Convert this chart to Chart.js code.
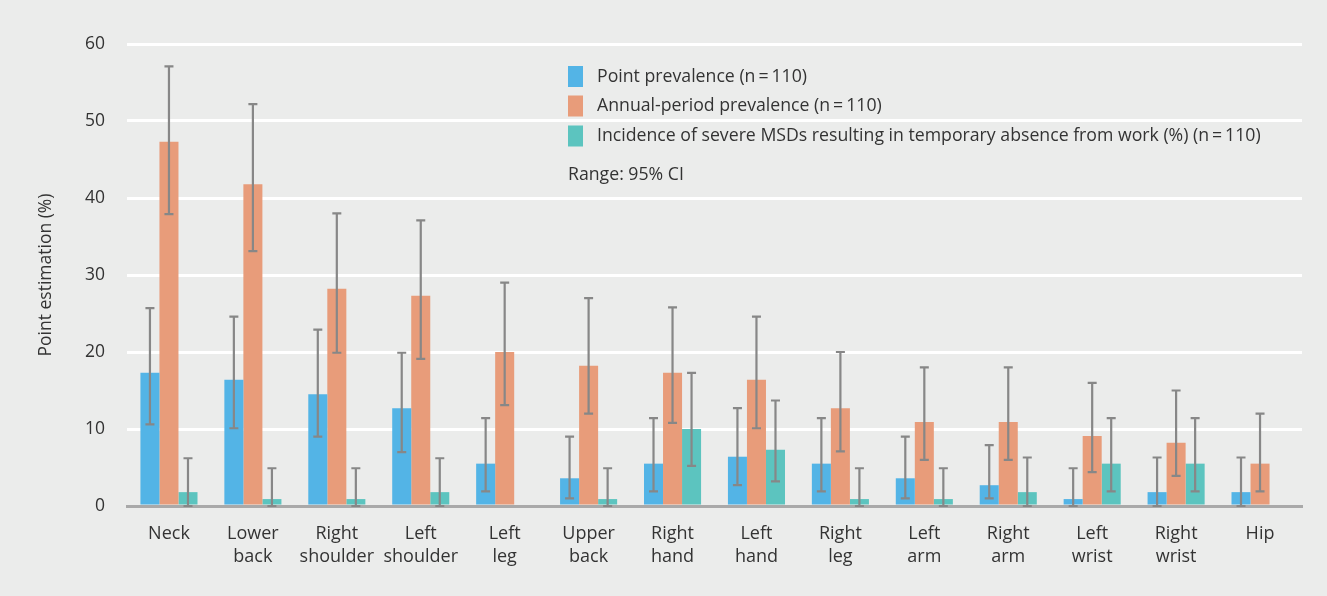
<!DOCTYPE html>
<html>
<head>
<meta charset="utf-8">
<script src="https://cdn.jsdelivr.net/npm/chart.js@4.4.0/dist/chart.umd.min.js"></script>
<style>
  html, body { margin: 0; padding: 0; background: #ebeceb; }
  #wrap { width: 1327px; height: 596px; position: relative; }
</style>
</head>
<body>
<div id="wrap"><canvas id="chart"></canvas></div>
<script>
// body regions
const categories = [
  ["Neck"], ["Lower", "back"], ["Right", "shoulder"], ["Left", "shoulder"], ["Left", "leg"],
  ["Upper", "back"], ["Right", "hand"], ["Left", "hand"], ["Right", "leg"], ["Left", "arm"],
  ["Right", "arm"], ["Left", "wrist"], ["Right", "wrist"], ["Hip"]
]

// point prevalence and 95% CI
const pointPrev = [17.3, 16.4, 14.5, 12.7, 5.5, 3.6, 5.5, 6.4, 5.5, 3.6, 2.7, 0.9, 1.8, 1.8]
const pointLo = [10.6, 10.1, 9.0, 7.0, 1.9, 1.0, 1.9, 2.7, 1.9, 1.0, 1.0, 0, 0, 0]
const pointHi = [25.7, 24.6, 22.9, 19.9, 11.4, 9.0, 11.4, 12.7, 11.4, 9.0, 7.9, 4.9, 6.3, 6.3]

// annual-period prevalence and 95% CI
const annualPrev = [47.3, 41.8, 28.2, 27.3, 20.0, 18.2, 17.3, 16.4, 12.7, 10.9, 10.9, 9.1, 8.2, 5.5]
const annualLo = [37.9, 33.1, 19.9, 19.1, 13.1, 12.0, 10.8, 10.1, 7.1, 6.0, 6.0, 4.4, 3.9, 1.9]
const annualHi = [57.1, 52.2, 38.0, 37.1, 29.0, 27.0, 25.8, 24.6, 20.0, 18.0, 18.0, 16.0, 15.0, 12.0]

// severe MSDs incidence and 95% CI
const severeInc = [1.8, 0.9, 0.9, 1.8, 0, 0.9, 10.0, 7.3, 0.9, 0.9, 1.8, 5.5, 5.5, 0]
const severeLo = [0, 0, 0, 0, null, 0, 5.2, 3.2, 0, 0, 0, 1.9, 1.9, null]
const severeHi = [6.2, 4.9, 4.9, 6.2, null, 4.9, 17.3, 13.7, 4.9, 4.9, 6.3, 11.4, 11.4, null]

const yTicks = [0, 10, 20, 30, 40, 50, 60]

const seriesNames = [
  "Point prevalence (n\u2009=\u2009110)",
  "Annual-period prevalence (n\u2009=\u2009110)",
  "Incidence of severe MSDs resulting in temporary absence from work (%) (n\u2009=\u2009110)"
]
const colors = ["#53b4e6", "#e89c7a", "#5cc4bf"]
const FONT = "'Open Sans', sans-serif"

const errorBars = {
  id: "errorBars",
  afterDatasetsDraw(chart) {
    const ctx = chart.ctx
    const y = chart.scales.y
    ctx.save()
    ctx.strokeStyle = "#878787"
    ctx.lineWidth = 2.2
    chart.data.datasets.forEach((ds, i) => {
      const meta = chart.getDatasetMeta(i)
      meta.data.forEach((bar, j) => {
        const lo = ds.lo[j], hi = ds.hi[j]
        if (lo == null || hi == null) return
        const yl = y.getPixelForValue(lo), yh = y.getPixelForValue(hi)
        ctx.beginPath()
        ctx.moveTo(bar.x, yl); ctx.lineTo(bar.x, yh)
        ctx.moveTo(bar.x - 4.5, yl); ctx.lineTo(bar.x + 4.5, yl)
        ctx.moveTo(bar.x - 4.5, yh); ctx.lineTo(bar.x + 4.5, yh)
        ctx.stroke()
      })
    })
    ctx.restore()
  }
}

const legendBox = {
  id: "legendBox",
  afterDraw(chart) {
    const ctx = chart.ctx
    ctx.save()
    ctx.font = "17.7px " + FONT
    ctx.textBaseline = "middle"
    const rows = [76.5, 106, 136]
    seriesNames.forEach((name, i) => {
      ctx.fillStyle = colors[i]
      ctx.fillRect(568, rows[i] - 10.5, 15, 21)
      ctx.fillStyle = "#333"
      ctx.fillText(name, 597, rows[i])
    })
    ctx.fillText("Range: 95% CI", 568, 175)
    ctx.restore()
  }
}

new Chart(document.getElementById("chart"), {
  type: "bar",
  data: {
    labels: categories,
    datasets: [
      { label: seriesNames[0], data: pointPrev, lo: pointLo, hi: pointHi, backgroundColor: colors[0] },
      { label: seriesNames[1], data: annualPrev, lo: annualLo, hi: annualHi, backgroundColor: colors[1] },
      { label: seriesNames[2], data: severeInc, lo: severeLo, hi: severeHi, backgroundColor: colors[2] },
    ],
  },
  options: {
    responsive: true,
    maintainAspectRatio: false,
    animation: false,
    datasets: { bar: { categoryPercentage: 0.68, barPercentage: 1.0 } },
    layout: { padding: { left: 8, right: 25, top: 44, bottom: 0 } },
    scales: {
      x: {
        grid: { display: false },
        border: { display: true, color: "#a9a9a9", width: 3 },
        ticks: { color: "#333", font: { family: FONT, size: 18, lineHeight: 1.28 }, padding: 8, maxRotation: 0, autoSkip: false },
        afterFit(s) { s.height = 90 },
      },
      y: {
        min: 0,
        max: 60,
        afterBuildTicks(s) { s.ticks = yTicks.map(v => ({ value: v })) },
        grid: {
          color: (c) => c.tick && c.tick.value === 0 ? "rgba(0,0,0,0)" : "#ffffff",
          lineWidth: 3,
          drawTicks: false,
        },
        border: { display: false },
        ticks: { color: "#333", font: { family: FONT, size: 17.5 }, padding: 22 },
        title: {
          display: true,
          text: "Point estimation (%)",
          color: "#333",
          font: { family: FONT, size: 17.5 },
          padding: { top: 28, bottom: 0 },
        },
        afterFit(s) { s.width = 119 },
      },
    },
    plugins: {
      legend: { display: false },
      tooltip: { enabled: false },
    },
  },
  plugins: [errorBars, legendBox],
})
</script>
</body>
</html>
